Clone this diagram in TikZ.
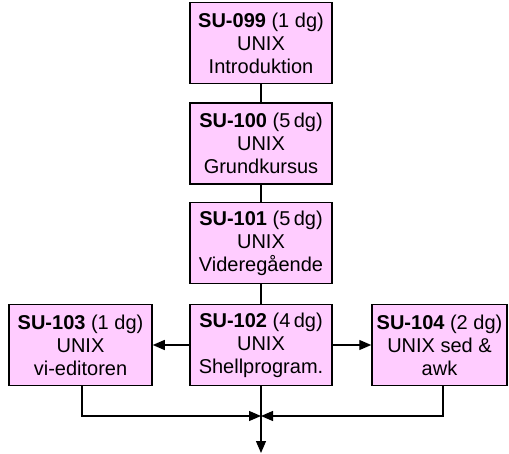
\documentclass[tikz,border=0pt]{standalone}
\usepackage{fontspec}
\setmainfont{Liberation Sans}
\usetikzlibrary{arrows.meta,calc}
\definecolor{boxpink}{HTML}{FFCCFF}
\begin{document}
\begin{tikzpicture}[x=1pt,y=-1pt,
  course/.style={draw=black,line width=1.5pt,fill=boxpink,rectangle,align=center,
    minimum height=81pt,inner sep=0pt,font=\fontsize{20}{23}\selectfont},
  link/.style={line width=1.3pt},
  arr/.style={line width=1.3pt,-{Triangle[length=12pt,width=10pt]}}]
\useasboundingbox (0,0) rectangle (509,454);
\node[course,minimum width=142pt] (a) at (261,43) {\textbf{SU-099} (1 dg)\\UNIX\\Introduktion};
\node[course,minimum width=142pt] (b) at (261,143.5) {\textbf{SU-100} (5\,dg)\\UNIX\\Grundkursus};
\node[course,minimum width=142pt] (c) at (261,243) {\textbf{SU-101} (5\,dg)\\UNIX\\Videregående};
\node[course,minimum width=142pt] (d) at (261,345) {\textbf{SU-102} (4\,dg)\\UNIX\\Shellprogram.};
\node[course,minimum width=143pt] (l) at (80.5,345) {\textbf{SU-103} (1 dg)\\UNIX\\vi-editoren};
\node[course,minimum width=135pt] (r) at (439.5,345) {\textbf{SU-104} (2 dg)\\UNIX sed \&\\awk};
\coordinate (m) at (261,416);
\coordinate (e) at (261,453);
\draw[link] (a) -- (b);
\draw[link] (b) -- (c);
\draw[link] (c) -- (d);
\draw[arr] (d) -- (l);
\draw[arr] (d) -- (r);
\draw[arr] (d) -- (e);
\draw[arr] ([xshift=1.5pt]l.south) |- (m);
\draw[arr] ([xshift=3.5pt]r.south) |- (m);
\end{tikzpicture}
\end{document}
